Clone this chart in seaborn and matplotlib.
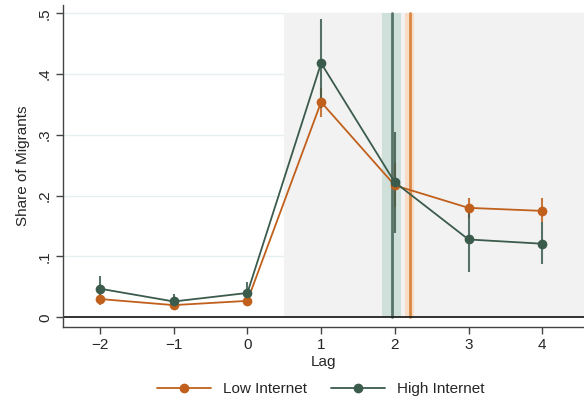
import matplotlib
matplotlib.use("Agg")
import matplotlib.pyplot as plt
import seaborn as sns
import numpy as np
import pandas as pd

lags = [-2, -1, 0, 1, 2, 3, 4]
low_mean = [0.030, 0.020, 0.027, 0.354, 0.217, 0.180, 0.175]
low_lo = [0.020, 0.014, 0.019, 0.329, 0.181, 0.163, 0.156]
low_hi = [0.039, 0.026, 0.035, 0.377, 0.253, 0.197, 0.197]
high_mean = [0.047, 0.026, 0.040, 0.418, 0.222, 0.128, 0.121]
high_lo = [0.026, 0.013, 0.022, 0.345, 0.139, 0.075, 0.087]
high_hi = [0.068, 0.038, 0.058, 0.491, 0.304, 0.181, 0.156]
series = ["Low Internet", "High Internet"]
vline_high = 1.962
vband_high = (1.82, 2.09)
vline_low = 2.20
vband_low = (2.14, 2.26)
yticks = [0, 0.1, 0.2, 0.3, 0.4, 0.5]
ytick_labels = ["0", ".1", ".2", ".3", ".4", ".5"]
xtick_labels = ["\u22122", "\u22121", "0", "1", "2", "3", "4"]

ORANGE = "#c0601c"
GREEN = "#3b5b4c"

sns.set_style("white")
plt.rcParams["font.family"] = ["Liberation Sans", "DejaVu Sans"]

df = pd.DataFrame({
    "Lag": lags * 2,
    "val": low_mean + high_mean,
    "lo": low_lo + high_lo,
    "hi": low_hi + high_hi,
    "group": [series[0]] * len(lags) + [series[1]] * len(lags),
})

fig = plt.figure(figsize=(5.84, 4.04), dpi=100)
ax = fig.add_axes([63 / 584, 1 - 327 / 404, 1 - 63 / 584, (327 - 5) / 404])

# gridlines
for yv in yticks[1:]:
    ax.axhline(yv, color="#e6eff0", lw=1.0, zorder=0)

# shaded post period
ax.fill_between([0.5, 4.7], 0, 0.5, color="#f2f2f2", zorder=0.6, lw=0)

# vertical bands and lines
ax.fill_between(list(vband_high), 0, 0.5, color="#cfe0da", zorder=1, lw=0)
ax.plot([vline_high, vline_high], [0, 0.5], color="#587468", lw=2.0, zorder=1.1)
ax.fill_between(list(vband_low), 0, 0.5, color="#f8dcc6", zorder=1, lw=0)
ax.plot([vline_low, vline_low], [0, 0.5], color="#d88845", lw=2.0, zorder=1.1)

ax.axhline(0, color="#222222", lw=1.3, zorder=2)

palette = {series[0]: ORANGE, series[1]: GREEN}
for g in series:
    sub = df[df["group"] == g]
    ax.vlines(sub["Lag"], sub["lo"], sub["hi"], color=palette[g], lw=1.5, alpha=0.85, zorder=3)

sns.lineplot(data=df, x="Lag", y="val", hue="group", palette=palette, marker="o",
             markersize=7, markeredgewidth=0, lw=1.3, ax=ax, zorder=4, legend=True,
             hue_order=series)

ax.set_xlim(-2.502, 4.567)
ax.set_ylim(-0.016, 0.5137)
ax.set_xticks(lags)
ax.set_xticklabels(xtick_labels, fontsize=11)
ax.set_yticks(yticks)
ax.set_yticklabels(ytick_labels, fontsize=11, rotation=90, va="center")
ax.set_xlabel("Lag", fontsize=11, labelpad=2)
ax.set_ylabel("Share of Migrants", fontsize=11, labelpad=6)
ax.tick_params(axis="both", which="both", direction="out", length=5, width=1,
               color="#444444", bottom=True, left=True, pad=3)
for s in ["top", "right"]:
    ax.spines[s].set_visible(False)
for s in ["left", "bottom"]:
    ax.spines[s].set_color("#444444")
    ax.spines[s].set_linewidth(1.0)

handles, labels = ax.get_legend_handles_labels()
ax.get_legend().remove()
fig.legend(handles, labels, loc="center", bbox_to_anchor=(321 / 584, 1 - 389 / 404), ncol=2,
           frameon=False, fontsize=11, handlelength=3.5, columnspacing=1.6, handletextpad=0.8)

fig.savefig("out.png", dpi=100)
